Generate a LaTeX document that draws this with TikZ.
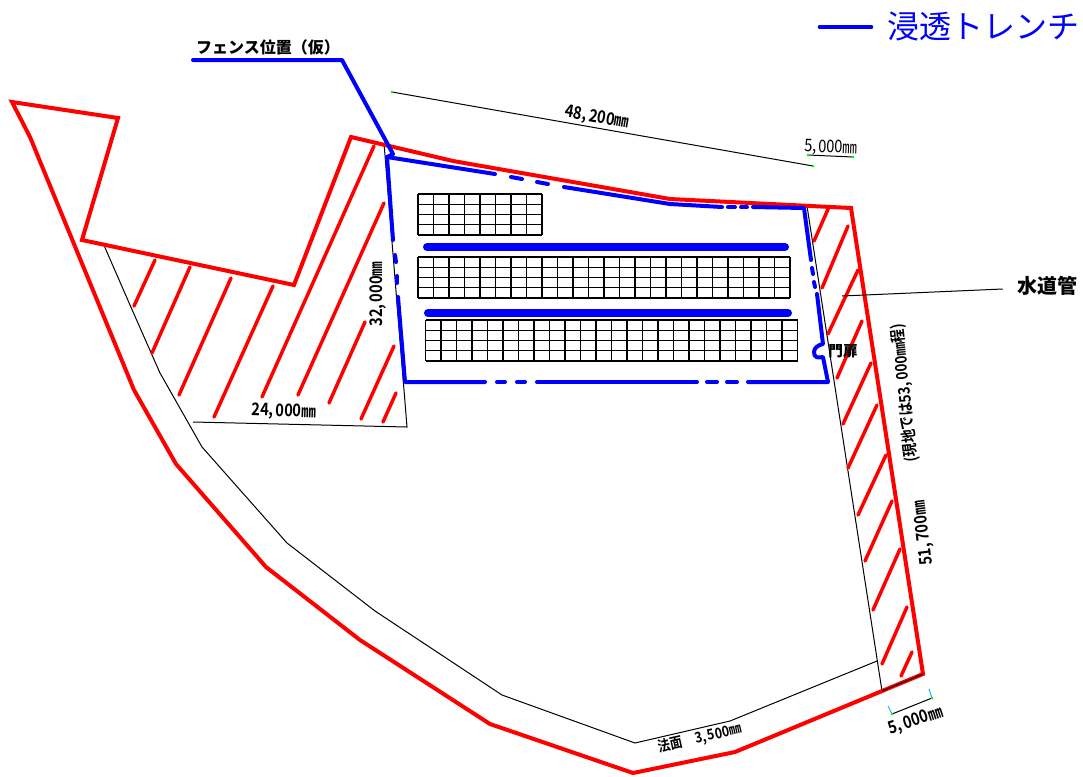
\documentclass[tikz,border=0pt]{standalone}
\usepackage{fontspec}
\setmainfont{Noto Sans CJK JP}
\newfontfamily\dimfont[FakeStretch=.85,BoldFont={Noto Sans CJK JP Bold}]{Noto Sans CJK JP}

\newcommand{\cm}{,\kern.12em}
\tikzset{
	boundary/.style={red,line width=3pt,line join=miter},
	hatch/.style={red,line width=2.6pt,line cap=round},
	fence/.style={blue,line width=3pt,line cap=round,line join=round},
	trench/.style={blue,line width=6pt,line cap=round},
	thin line/.style={black,line width=.75pt},
	panel/.style={black,line width=.8pt},
	dimtext/.style={font=\dimfont\bfseries\fontsize{13}{13}\selectfont,inner sep=0pt},
}
\newcommand{\panelgrid}[3]{% left, top, columns
	\foreach \i in {0,...,#3}
		\draw[panel] ({#1+15.5*\i},#2) -- ({#1+15.5*\i},#2+41);
	\foreach \j in {0,...,4}
		\draw[panel] (#1,{#2+10.25*\j}) -- ({#1+15.5*#3},{#2+10.25*\j});
}

\begin{document}
\begin{tikzpicture}[x=.75pt,y=-.75pt]
	\useasboundingbox (0,0) rectangle (1083,776);

	% thin lines
	\draw[thin line] (103,243) -- (130,305) -- (160,373) -- (202,447) -- (287,543) -- (375,611) -- (502,695) -- (635,743) -- (730,721) -- (877,661);
	\draw[thin line] (384,143) -- (407,427) -- (193,422);
	\draw[thin line] (807,206) -- (851,207);
	\draw[thin line] (807,206) -- (882,691);

	% red boundary
	\draw[boundary] (30,137) -- (12,102) -- (118,118) -- (82,240) -- (294,285) -- (351,137) -- (453,161) -- (670,199) -- (851,208) -- (923,674) -- (735,752) -- (633,773) -- (490,724) -- (360,640) -- (266,567) -- (176,464) -- (134,390) -- cycle;
	\draw[thin line] (882,691) -- (923,674);

	% hatching
	\foreach \xa/\ya/\xb/\yb in {155/260/134/306, 190/267/152/353, 231/278/179/395, 273/286/214/417, 374/146/262/397, 384/203/298/395, 365/322/329/403, 394/346/361/419, 396/393/383/422,
		829/207/814/241, 848/226/822/288, 858/270/828/334, 862/321/837/378, 871/363/843/424, 877/405/848/468, 886/455/858/515, 892/501/865/561, 900/549/873/610, 907/607/882/664, 912/652/901/676}
		\draw[hatch] (\xa,\ya) -- (\xb,\yb);

	% fence
	\draw[fence] (193,60) -- (342,60) -- (393,154) -- (387,157) -- (495,174);
	\draw[fence] (511,177) -- (522,179);
	\draw[fence] (537,182) -- (548,184);
	\draw[fence] (564,187) -- (670,204) -- (722,207);
	\draw[fence] (728,207) -- (735,207);
	\draw[fence] (741,207) -- (747,207);
	\draw[fence] (753,207) -- (804,208) -- (811,260);
	\draw[fence] (812,268) -- (813,274);
	\draw[fence] (814,282) -- (815,287);
	\draw[fence] (817,294) -- (823,344) .. controls (818,345) and (814,348) .. (814,352) .. controls (814,358) and (818,358) .. (823,357) -- (828,382) -- (748,382);
	\draw[fence] (737,382) -- (727,382);
	\draw[fence] (717,382) -- (707,382);
	\draw[fence] (697,382) -- (537,382);
	\draw[fence] (525,382) -- (517,382);
	\draw[fence] (505,382) -- (497,382);
	\draw[fence] (485,382) -- (405,382) -- (398,297);
	\draw[fence] (397,283) -- (397,276);
	\draw[fence] (396,262) -- (395,255);
	\draw[fence] (393,240) -- (387,157);

	% trenches
	\draw[trench] (427,247) -- (785,247);
	\draw[trench] (428,313) -- (788,313);
	\draw[blue,line width=3.5pt,line cap=round] (820,27) -- (871,27);

	% panels
	\panelgrid{418}{194}{8}
	\panelgrid{418}{257}{24}
	\panelgrid{425.5}{320}{24}

	% dimension lines
	\draw[thin line] (392,92) -- (813,166);
	\draw[thin line] (808,155) -- (853,157);
	\draw[thin line] (892,714) -- (932,698);
	\draw[cyan,line width=.6pt] (888,706) -- (892,714);
	\draw[cyan,line width=.6pt] (929,689) -- (932,698);
	\foreach \x/\y in {392/92, 813/166, 808/155, 853/157, 892/714, 932/698}
		\fill[green] (\x,\y) circle[radius=1.5];

	% labels
	\node[font=\fontsize{24}{24}\selectfont,text=blue,inner sep=0pt] (legend) at (983,26) {浸透トレンチ};
	\node[dimtext,font=\bfseries\fontsize{12}{12}\selectfont] (fencelabel) at (268,47) {フェンス位置（仮）};
	\node[dimtext,rotate=-10] (topdim) at (597,118) {48\cm200㎜};
	\node[dimtext,font=\dimfont\fontsize{13}{13}\selectfont,rotate=-2] (cornerdim) at (831,148) {5\cm000㎜};
	\node[dimtext,rotate=90] (leftdim) at (378,294) {32\cm000㎜};
	\node[dimtext,rotate=-2] (basedim) at (284,412) {24\cm000㎜};
	\node[dimtext,font=\bfseries\fontsize{11}{11}\selectfont] (gatelabel) at (843,351) {門扉};
	\node[dimtext,font=\bfseries\fontsize{15}{15}\selectfont] (pipelabel) at (1047,286) {水道管};
	\coordinate (pipeend) at (842,296);
	\draw[thin line] (pipelabel.west) ++(-14,3) -- (pipeend);
	\node[dimtext,font=\dimfont\bfseries\fontsize{12}{12}\selectfont,rotate=96] (sitedim) at (905,393) {(現地では53\cm000㎜程)};
	\node[dimtext,rotate=97] (rightdim) at (924,533) {51\cm700㎜};
	\node[dimtext,rotate=18] (enddim) at (916,721) {5\cm000㎜};
	\node[dimtext,font=\dimfont\bfseries\fontsize{11}{11}\selectfont,rotate=13] (slopedim) at (700,738) {法面　3\cm500㎜};
\end{tikzpicture}
\end{document}
